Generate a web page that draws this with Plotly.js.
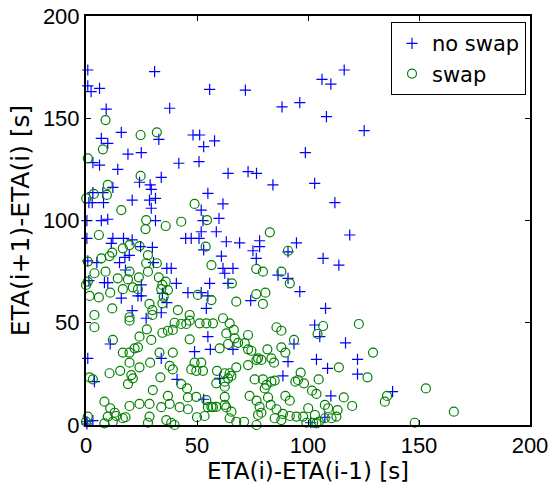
<!DOCTYPE html>
<html>
<head>
<meta charset="utf-8">
<script src="https://cdn.plot.ly/plotly-3.0.1.min.js"></script>
<style>html,body{margin:0;padding:0;background:#fff;}#chart{width:552px;height:484px;}</style>
</head>
<body>
<div id="chart"></div>
<script>
var seriesNames = ["no swap", "swap"];
var tickVals = [0, 50, 100, 150, 200];
var tickText = ["0", "50", "100", "150", "200"];

var noSwapX = [0.8,30.9,0.8,2.3,6.1,55.7,9.1,37.7,15.9,6.9,9.8,32.8,48.2,51.2,57.9,53,18.9,24.9,
71.8,88.3,96.3,106.3,110.3,116.3,108.3,125.3,98.8,
3.1,6.1,14.3,41.8,50.9,64,24.1,33.9,28.9,29.4,3.1,7.6,12.1,1.3,2.8,7.9,20.8,28.6,31.3,29.4,54.9,61.7,51.9,31.3,6.9,9.8,0.4,52.7,59.9,51.9,58.7,0.4,12.1,16.9,20.8,44.9,47.4,50.9,63.2,11.4,24.6,29.9,53,17.5,19.5,61,4.9,15.1,30.4,0.8,36.4,38.4,61.7,62.5,17.8,8.3,9.8,24.9,40.7,55.7,64,1.3,45.9,51.9,
73,76.8,84.2,103,112.1,118.8,69.2,78.2,78.2,75.2,76.7,94.8,91,106.8,113.9,66.2,86.5,91,96.3,
15.9,23.4,24.9,34.4,36.4,54.9,20.8,27.1,33.9,54.2,10.9,48.9,54.9,56,0.8,33.9,3.8,41,60.2,53,0.4,3.1,0.4,
74.2,107.9,103,105.3,93.7,66.2,116.9,91,103.8,108.8,122.3,122.3,88.7,110.3,107.6,101.2,138.1];
var noSwapY = [173.6,172.8,165.8,163,164.6,164.1,154.5,154.9,143.1,140.2,137.7,139.7,141.8,141.8,138.9,136.1,132.5,133.2,
163.8,155.6,157.6,169,166.7,173.6,150.8,143.9,133.2,
128.3,127.1,125,128,128.8,123,118.7,121.1,117.4,115.2,113.6,113.6,116.2,108.7,108.7,108.7,110,110,110.8,106,113.3,108.1,105.1,99.9,99.9,100.6,99.9,99.9,101,94.5,94.5,91.3,91.3,91.3,90.5,91.3,91.3,91.3,89.6,88.8,87.2,86.9,85.6,82,82.9,82.6,79.4,79.4,79.4,80.3,76.6,76.6,76.6,74.2,75.8,69.6,69.6,68.5,69.3,69.3,69.3,70.6,64.7,64.7,
123.9,123,117.4,118.2,108.7,92.9,89.1,90.1,87.2,85.2,81.5,89.1,84.7,81.5,78.2,76.6,73.3,71.7,65.2,
62,63.1,63.1,64.4,59.8,63.1,55.9,52.2,54.9,57,39.6,35.9,43.2,37,32.6,32.6,21.2,22.3,22.8,12.6,1.6,2.1,0.5,
60.8,57,48.9,43.2,39.6,37,40.2,31,32.1,27.7,32.1,24.9,24,14.2,3.8,1.1,16.3];

var swapX = [8.8,24.6,31.9,7.6,0.8,24.6,9.8,9.4,0.1,3.5,15.9,48.9,27.1,26.8,35.9,42.9,54.5,5.8,53.9,56.5,11.8,16.6,19.6,24.1,10.6,6.9,27.9,27.1,31.9,19.6,27.9,0.8,8.8,3.8,14.3,18.9,23.8,32.8,35.9,34.4,0.8,0,16.6,21.1,23.4,33.9,36.9,10.9,50.4,
82.8,91,76.7,79.7,88,91.8,65.7,76.7,80.8,
1.6,5.8,11.8,3.8,3.8,19.6,19.6,28.6,29.9,29.9,34.4,35,41.4,39.9,46.7,46.7,42.9,45.2,51.2,54.2,57.2,56.5,61.7,63.2,60.2,34.4,36.9,39.1,27.4,24.1,29.4,46.7,12.1,23.4,21.9,16.6,19.6,33.1,39.1,19.6,24.1,28.9,37.7,39.1,48.9,51.9,47.4,49.7,52.7,59,10.6,15.4,20.4,21.1,18.9,1.6,3.1,33.5,42.9,45.5,58.7,62.5,30.1,36.9,45.9,49.7,54.2,56.5,58.7,62.5,63.2,8.3,10.9,12.9,13.6,9.8,19.6,24.1,28.6,16.6,17.8,27.9,28.6,33.9,37.7,42.2,45.9,36.2,38.4,39.9,50,53.4,54.9,57.2,8.3,12.1,0,0.8,
67.7,79.7,64.7,66.6,67,64,68.5,71.5,73,74.5,73,85.8,88,93.7,106.8,104.3,122.9,129.3,81.7,88,89.8,77.5,76.8,79,83.5,84.7,73,67.7,113.9,126.8,62.5,64.7,65.5,64,62.5,76,79.7,83.5,85,81.3,80.5,96.7,95.5,98.2,94.3,104.8,89.8,91.8,101.8,103.8,73.7,76.8,82,83.2,78.2,77.5,79,62.5,65.5,64.7,67.7,71.2,76.8,85.8,88.7,88,85,91.8,94.8,97.8,100.1,103.1,99.3,102.3,103.8,107.6,109.1,113.3,112.8,107.6,110.6,104.9,116.1,119.9,
135.6,134.6,153.1,165.7,148.1];
var swapY = [149.1,141.8,143.1,134.8,130.4,121.8,117.4,112.5,110.8,113,105.1,108.1,100.2,95.8,97.3,99.4,100.2,92.9,87.2,78.2,84.3,86.4,88,87.5,82.6,81.5,83.1,79.1,79.1,75,75,79.9,75,74.2,71.7,71.2,72.2,72.2,70.1,68.5,70.1,68.5,66.4,67.3,66.4,66.4,66,64.7,63.6,
94.2,85.2,76.3,75,75,69.3,69.3,64,64.7,
63.1,62.4,57,53.8,47.8,52.7,51,59.2,56.2,53.8,59.5,62.7,56.2,50,53.8,51,49.4,49.4,49.7,49.7,49.7,61.1,52.2,44.8,37.5,45.1,46.1,46.5,46.8,43.2,41.6,41.9,41.6,38,37.5,35.4,35.4,35.4,35.4,30.5,28.2,30.5,28.9,27.2,30.5,30.5,27.2,26.5,26.5,26.5,25.3,26.5,24.4,22.8,20,23.3,22.3,23.3,20,17.9,20.4,18.7,17.1,14.2,13.5,13.8,12.2,8.9,8.9,13.8,8.6,11.4,8.2,6,4.4,4.1,9.3,10.3,10.3,3.3,3.8,1.1,4.1,8.7,10.3,8.7,7.7,2.4,1.1,0,3.8,4.4,8.7,8.7,0.8,1.6,1.6,4.1,
60.3,59.2,49.7,46.5,42.4,39.6,40.2,40,37,36.3,44,47.8,46.1,41.6,48.4,44.5,49.4,35.4,37,38,35.4,32.6,31.8,31.8,32.6,30.5,29.3,28.2,28.2,23.3,25.3,25.3,24,22.8,21.2,22.3,22.3,21.2,21.7,19.6,17.9,25.6,22,20.4,21.2,22.3,14.2,11.9,16.8,15.2,14.2,11.9,13.5,9.8,8.9,4.9,6,9.8,6.5,3.3,1.6,1.6,0,7.7,5.4,2.4,3.3,4.4,4.1,4.1,8.2,4.9,1.1,1.1,0.8,9.8,8.2,7.3,4.1,3.3,3.3,1.6,13.5,9.3,
14.2,11.4,17.9,6.5,1.1];

var traces = [
  {x: noSwapX, y: noSwapY, name: seriesNames[0], type: 'scatter', mode: 'markers', cliponaxis: false,
   marker: {symbol: 'cross-thin-open', size: 8, color: '#0000ff', line: {color: '#0000ff', width: 1.2}}},
  {x: swapX, y: swapY, name: seriesNames[1], type: 'scatter', mode: 'markers', cliponaxis: false,
   marker: {symbol: 'circle-open', size: 9, color: '#008000', line: {color: '#008000', width: 1.2}}}
];

var axisCommon = {
  range: [0, 200], tickvals: tickVals, ticktext: tickText,
  ticks: 'inside', ticklen: 5, tickwidth: 1, tickcolor: '#000',
  showline: true, linecolor: '#000', linewidth: 2, mirror: 'ticks',
  showgrid: false, zeroline: false,
  tickfont: {family: 'Liberation Sans, Arial, sans-serif', size: 22, color: '#000'}
};

var layout = {
  width: 552, height: 484,
  margin: {l: 86, r: 22, t: 16, b: 59, pad: 0},
  paper_bgcolor: '#fff', plot_bgcolor: '#fff',
  showlegend: true,
  xaxis: Object.assign({}, axisCommon, {
    title: {text: 'ETA(i)-ETA(i-1) [s]', standoff: 9, font: {family: 'DejaVu Sans, sans-serif', size: 23, color: '#000'}}
  }),
  yaxis: Object.assign({}, axisCommon, {
    title: {text: 'ETA(i+1)-ETA(i) [s]', standoff: 6, font: {family: 'DejaVu Sans, sans-serif', size: 25, color: '#000'}}
  }),
  legend: {
    x: 0.991, y: 0.985, xanchor: 'right', yanchor: 'top',
    bgcolor: '#fff', bordercolor: '#000', borderwidth: 1,
    font: {family: 'DejaVu Sans, sans-serif', size: 21, color: '#000'},
    itemwidth: 30, tracegroupgap: 0
  }
};

Plotly.newPlot('chart', traces, layout, {displayModeBar: false, staticPlot: true});
</script>
</body>
</html>
